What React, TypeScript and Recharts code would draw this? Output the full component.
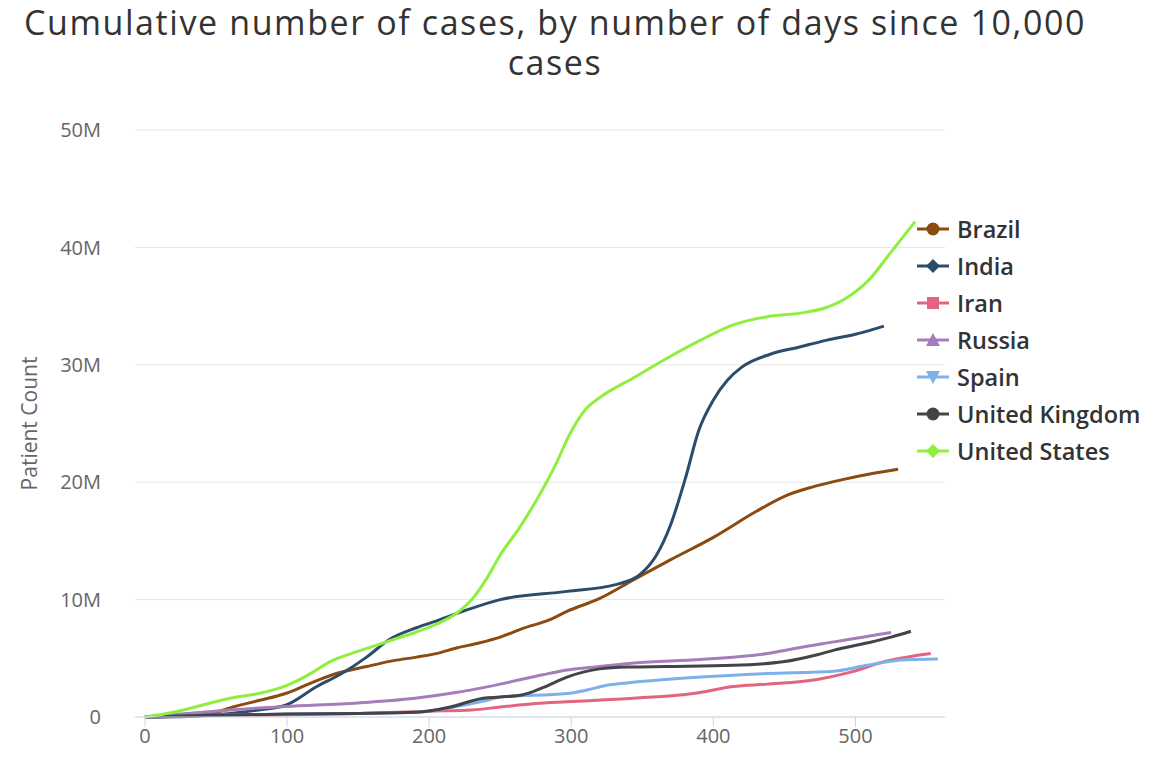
import React from 'react';
import { LineChart, Line, XAxis, YAxis, CartesianGrid, Legend, Label } from 'recharts';

const xTicks = [0, 100, 200, 300, 400, 500];
const yTicks = [0, 10e6, 20e6, 30e6, 40e6, 50e6];

const brazilDays = [0, 30, 50, 62, 80, 99, 115, 132, 156, 175, 191, 205, 220, 235, 250, 265, 285, 297, 320, 344, 370, 400, 430, 450, 470, 490, 510, 530];
const brazilCases = [0, 0.1, 0.4, 0.85, 1.4, 2.0, 2.8, 3.6, 4.3, 4.8, 5.1, 5.4, 5.9, 6.3, 6.8, 7.5, 8.3, 9.0, 10.1, 11.7, 13.4, 15.3, 17.5, 18.8, 19.6, 20.2, 20.7, 21.1];

const indiaDays = [0, 30, 60, 80, 99, 121, 137, 156, 172, 191, 203, 226, 250, 297, 332, 348, 360, 370, 380, 390, 400, 410, 420, 440, 460, 480, 500, 520];
const indiaCases = [0, 0.05, 0.3, 0.6, 1.0, 2.6, 3.6, 5.1, 6.6, 7.6, 8.1, 9.1, 10.0, 10.7, 11.3, 12.1, 13.8, 16.4, 20.2, 24.5, 27.0, 28.7, 29.8, 30.9, 31.5, 32.1, 32.6, 33.3];

const iranDays = [0, 30, 100, 150, 200, 230, 250, 275, 297, 344, 386, 414, 438, 473, 496, 520, 553];
const iranCases = [0, 0.1, 0.2, 0.3, 0.5, 0.6, 0.85, 1.15, 1.3, 1.6, 2.0, 2.6, 2.8, 3.2, 3.8, 4.7, 5.4];

const russiaDays = [0, 30, 60, 99, 150, 190, 220, 250, 280, 297, 320, 344, 391, 438, 460, 485, 505, 525];
const russiaCases = [0, 0.3, 0.6, 0.9, 1.2, 1.6, 2.1, 2.8, 3.6, 4.0, 4.3, 4.6, 4.9, 5.4, 5.9, 6.4, 6.8, 7.2];

const spainDays = [0, 30, 100, 150, 190, 215, 240, 250, 297, 311, 325, 339, 391, 438, 485, 508, 532, 558];
const spainCases = [0, 0.1, 0.25, 0.3, 0.4, 0.8, 1.4, 1.7, 2.0, 2.3, 2.7, 2.9, 3.4, 3.7, 3.9, 4.4, 4.85, 4.95];

const ukDays = [0, 30, 100, 150, 191, 215, 238, 250, 266, 280, 297, 320, 340, 367, 414, 449, 473, 485, 508, 525, 539];
const ukCases = [0, 0.1, 0.25, 0.3, 0.4, 0.85, 1.6, 1.7, 1.9, 2.5, 3.4, 4.1, 4.25, 4.3, 4.4, 4.7, 5.3, 5.7, 6.3, 6.8, 7.3];

const usDays = [0, 20, 40, 60, 80, 100, 109, 118, 130, 145, 160, 175, 190, 205, 220, 230, 240, 250, 264, 278, 289, 299, 310, 320, 344, 368, 391, 414, 438, 461, 480, 495, 510, 525, 542];
const usCases = [0, 0.4, 1.0, 1.6, 2.0, 2.7, 3.2, 3.8, 4.7, 5.4, 6.0, 6.6, 7.2, 7.9, 8.9, 10.0, 11.7, 13.8, 16.2, 19.0, 21.5, 24.1, 26.2, 27.2, 28.9, 30.6, 32.1, 33.4, 34.1, 34.4, 34.9, 35.8, 37.3, 39.6, 42.2];

const titleLines = ['Cumulative number of cases, by number of days since 10,000', 'cases'];

const build = (days: number[], cases: number[]) => days.map((d, i) => ({ day: d, value: cases[i] * 1e6 }));

const series = [
  { name: 'Brazil', color: '#8b4a0f', marker: 'circle', data: build(brazilDays, brazilCases) },
  { name: 'India', color: '#2c4c6b', marker: 'diamond', data: build(indiaDays, indiaCases) },
  { name: 'Iran', color: '#e2647f', marker: 'square', data: build(iranDays, iranCases) },
  { name: 'Russia', color: '#a67cba', marker: 'triangle', data: build(russiaDays, russiaCases) },
  { name: 'Spain', color: '#7eb0ea', marker: 'triangle-down', data: build(spainDays, spainCases) },
  { name: 'United Kingdom', color: '#434348', marker: 'circle', data: build(ukDays, ukCases) },
  { name: 'United States', color: '#8fef3f', marker: 'diamond', data: build(usDays, usCases) },
];

const Marker = ({ type, color }: { type: string; color: string }) => {
  let shape: React.ReactNode = null;
  const cx = 16, cy = 10;
  if (type === 'circle') shape = <circle cx={cx} cy={cy} r={6.5} fill={color} />;
  else if (type === 'diamond') shape = <path d={`M${cx} ${cy - 7}L${cx + 7} ${cy}L${cx} ${cy + 7}L${cx - 7} ${cy}Z`} fill={color} />;
  else if (type === 'square') shape = <rect x={cx - 6} y={cy - 6} width={12} height={12} fill={color} />;
  else if (type === 'triangle') shape = <path d={`M${cx} ${cy - 7}L${cx + 7} ${cy + 6}L${cx - 7} ${cy + 6}Z`} fill={color} />;
  else shape = <path d={`M${cx} ${cy + 7}L${cx + 7} ${cy - 6}L${cx - 7} ${cy - 6}Z`} fill={color} />;
  return (
    <svg width={32} height={20} style={{ display: 'block' }}>
      <line x1={0} y1={cy} x2={32} y2={cy} stroke={color} strokeWidth={3} />
      {shape}
    </svg>
  );
};

const renderLegend = () => (
  <div>
    {series.map((s) => (
      <div key={s.name} style={{ display: 'flex', alignItems: 'center', height: 37 }}>
        <Marker type={s.marker} color={s.color} />
        <span style={{ marginLeft: 8, fontFamily: '"Open Sans", sans-serif', fontWeight: 600, fontSize: 23.5, color: '#333333', whiteSpace: 'nowrap' }}>{s.name}</span>
      </div>
    ))}
  </div>
);

const fmt = (v: number) => (v === 0 ? '0' : `${v / 1e6}M`);

export default function App() {
  return (
    <div style={{ position: 'absolute', left: 0, top: 0, width: 1176, height: 757, background: '#ffffff' }}>
      {titleLines.map((t, i) => (
        <div
          key={i}
          style={{
            position: 'absolute',
            left: 0,
            top: 4 + i * 40,
            width: 1110,
            height: 36,
            textAlign: 'center',
            fontFamily: '"Open Sans", sans-serif',
            fontSize: 34,
            letterSpacing: 1.6,
            lineHeight: '36px',
            color: '#333333',
            whiteSpace: 'nowrap',
          }}
        >
          {t}
        </div>
      ))}
      <LineChart
        width={1176}
        height={757}
        margin={{ top: 130, right: 231, left: 0, bottom: 0 }}
        style={{ position: 'absolute', left: 0, top: 0 }}
      >
        <CartesianGrid vertical={false} stroke="#e6e6e6" />
        <XAxis
          type="number"
          dataKey="day"
          domain={[-7, 563]}
          ticks={xTicks}
          allowDataOverflow
          height={40}
          stroke="#ccd6eb"
          tickLine={{ stroke: '#ccd6eb' }}
          tickSize={10}
          tick={{ fill: '#666666', fontSize: 20, fontFamily: '"Open Sans", sans-serif' }}
        />
        <YAxis
          type="number"
          domain={[0, 50e6]}
          ticks={yTicks}
          tickFormatter={fmt}
          width={135}
          axisLine={false}
          tickLine={false}
          tickMargin={28}
          tick={{ fill: '#666666', fontSize: 20, fontFamily: '"Open Sans", sans-serif' }}
        >
          <Label
            value="Patient Count"
            angle={-90}
            position="insideLeft"
            offset={30}
            style={{ fill: '#666666', fontSize: 21, fontFamily: '"Open Sans", sans-serif', textAnchor: 'middle' }}
          />
        </YAxis>
        <Legend
          layout="horizontal"
          align="center"
          verticalAlign="middle"
          content={renderLegend}
          wrapperStyle={{ position: 'absolute', left: 917, top: 210, width: 259 }}
        />
        {series.map((s) => (
          <Line
            key={s.name}
            data={s.data}
            dataKey="value"
            name={s.name}
            type="monotone"
            stroke={s.color}
            strokeWidth={3}
            dot={false}
            activeDot={false}
            isAnimationActive={false}
          />
        ))}
      </LineChart>
    </div>
  );
}
